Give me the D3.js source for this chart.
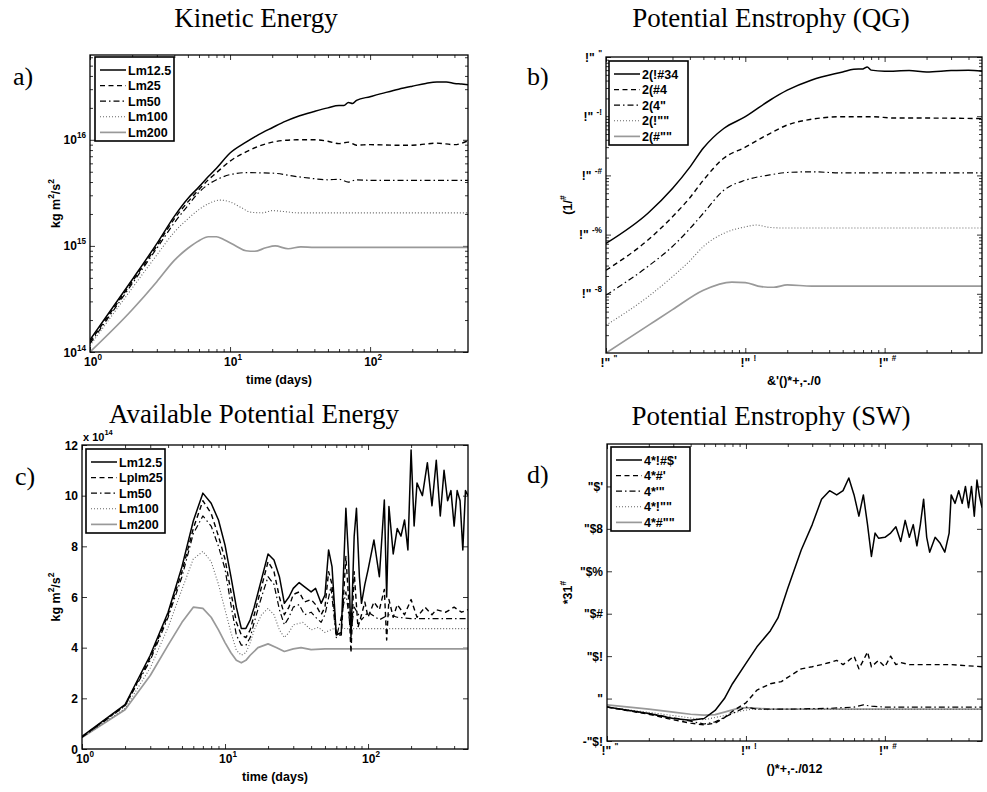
<!DOCTYPE html>
<html>
<head>
<meta charset="utf-8">
<script src="https://cdn.jsdelivr.net/npm/d3@7"></script>
<style>
  body { margin: 0; background: #fff; }
  svg text { font-family: "Liberation Sans", Arial, sans-serif; font-weight: bold; fill: #000; }
  svg text.serif { font-family: "Liberation Serif", "Times New Roman", serif; font-weight: normal; }
</style>
</head>
<body>
<svg id="chart" width="987" height="792"></svg>
<script>
// ---- data: [time in days, value] ----
// a) kinetic energy, kg m^2/s^2
const keLm125 = [[1,1.3e14],[2,4.8e14],[3,1.05e15],[4,1.9e15],[5,2.8e15],[6,3.6e15],[7,4.5e15],[8,5.4e15],[10,7.5e15],[13,9.5e15],[16,1.12e16],[20,1.3e16],[25,1.5e16],[30,1.65e16],[40,1.85e16],[50,2.0e16],[60,2.1e16],[65,2.1e16],[70,2.25e16],[75,2.2e16],[80,2.35e16],[100,2.55e16],[130,2.8e16],[160,3.0e16],[200,3.2e16],[250,3.4e16],[300,3.5e16],[350,3.5e16],[400,3.4e16],[450,3.35e16],[500,3.3e16]];
const keLm25 = [[1,1.25e14],[2,4.6e14],[3,1.0e15],[4,1.8e15],[5,2.6e15],[6,3.4e15],[7,4.2e15],[8,4.9e15],[10,6.3e15],[13,7.7e15],[16,8.7e15],[20,9.5e15],[25,9.9e15],[30,1.0e16],[40,1.0e16],[50,9.7e15],[60,9.2e15],[70,9.5e15],[80,8.9e15],[100,9.0e15],[150,8.9e15],[200,8.9e15],[300,9.3e15],[400,9.0e15],[500,9.8e15]];
const keLm50 = [[1,1.2e14],[2,4.4e14],[3,9.5e14],[4,1.65e15],[5,2.4e15],[6,3.2e15],[7,3.8e15],[8,4.2e15],[10,4.7e15],[13,4.9e15],[20,4.85e15],[30,4.5e15],[40,4.3e15],[50,4.2e15],[60,4.25e15],[70,4.0e15],[80,4.2e15],[100,4.15e15],[500,4.15e15]];
const keLm100 = [[1,1.15e14],[2,4.0e14],[3,8.2e14],[4,1.35e15],[5,1.8e15],[6,2.2e15],[7,2.5e15],[8.5,2.7e15],[10,2.6e15],[12,2.3e15],[14,2.08e15],[17,2.05e15],[20,2.15e15],[25,2.1e15],[30,2.05e15],[500,2.05e15]];
const keLm200 = [[1,1.0e14],[2,2.5e14],[3,4.6e14],[4,7.3e14],[5,9.5e14],[6,1.12e15],[7,1.22e15],[8,1.22e15],[9,1.15e15],[11,1.0e15],[13,9.0e14],[15,8.9e14],[18,9.6e14],[21,1.0e15],[26,9.4e14],[32,9.8e14],[40,9.7e14],[500,9.7e14]];

// b) potential enstrophy (QG)
const qgLm125 = [[1,7.1e-4],[2,2.3e-3],[3,6.0e-3],[4,0.0138],[5,0.029],[7,0.062],[10,0.098],[15,0.186],[20,0.275],[30,0.41],[50,0.56],[60,0.62],[70,0.63],[75,0.68],[80,0.6],[100,0.575],[150,0.59],[200,0.56],[300,0.59],[400,0.6],[500,0.575]];
const qgLm25 = [[1,2.5e-4],[2,8.1e-4],[3,2.0e-3],[4,4.2e-3],[5,8.3e-3],[7,0.0195],[10,0.030],[15,0.051],[20,0.071],[30,0.089],[50,0.098],[80,0.098],[120,0.093],[200,0.093],[500,0.091]];
const qgLm50 = [[1,9.5e-5],[2,2.9e-4],[3,6.3e-4],[4,1.26e-3],[5,2.3e-3],[7,5.6e-3],[10,8.3e-3],[15,0.0102],[20,0.0112],[30,0.0115],[50,0.011],[500,0.011]];
const qgLm100 = [[1,2.95e-5],[2,8.9e-5],[3,1.95e-4],[4,3.6e-4],[5,6.3e-4],[7,1.05e-3],[10,1.35e-3],[12,1.45e-3],[15,1.32e-3],[20,1.29e-3],[500,1.29e-3]];
const qgLm200 = [[1,1.0e-5],[2,2.9e-5],[3,5.4e-5],[5,1.15e-4],[8,1.58e-4],[10,1.55e-4],[13,1.32e-4],[16,1.29e-4],[20,1.41e-4],[30,1.35e-4],[500,1.35e-4]];

// c) available potential energy, x 10^14 kg m^2/s^2
const apeLm125 = [[1,0.5],[2,1.75],[3,3.7],[4,5.4],[5,7.2],[6,9.0],[7,10.1],[8,9.7],[9,9.04],[10,8.05],[11,6.8],[12,5.6],[13,4.76],[14,4.76],[15,5.1],[16,5.6],[18,6.7],[20,7.7],[22,7.46],[24,6.8],[26,5.75],[28,6.0],[30,6.34],[33,6.57],[36,6.4],[40,6.2],[43,6.34],[47,5.75],[50,6.08],[53,7.86],[56,7.2],[60,4.5],[65,4.6],[70,9.5],[73,7.6],[76,4.4],[80,8.4],[83,9.5],[87,6.8],[90,5.75],[95,6.5],[100,7.07],[110,8.25],[120,6.8],[130,9.83],[135,6.0],[140,9.57],[150,7.7],[160,8.7],[170,8.4],[180,9.04],[190,7.86],[200,11.8],[210,8.8],[220,10.5],[240,10.0],[260,11.3],[280,9.6],[300,11.4],[320,9.2],[340,11.0],[360,9.8],[380,10.2],[400,8.8],[420,10.2],[440,9.8],[460,7.86],[480,10.2],[500,10.0]];
const apeLm25 = [[1,0.48],[2,1.72],[3,3.6],[4,5.3],[5,7.0],[6,8.7],[7,9.8],[8,9.3],[9,8.4],[10,7.5],[11,6.2],[12,5.0],[13,4.5],[14,4.4],[15,4.7],[16,5.3],[18,6.4],[20,7.4],[22,7.0],[24,6.0],[26,5.3],[28,5.6],[30,6.1],[33,6.2],[36,5.8],[40,5.9],[43,5.7],[47,5.3],[50,5.6],[53,7.0],[56,6.5],[60,4.5],[65,4.5],[70,7.6],[73,6.0],[76,3.8],[80,7.0],[85,4.8],[90,5.3],[95,5.8],[100,5.2],[110,5.8],[120,5.5],[130,6.3],[135,4.3],[140,5.9],[150,5.2],[160,5.7],[180,5.3],[200,5.9],[220,5.2],[250,5.6],[280,5.3],[300,5.5],[350,5.4],[400,5.6],[450,5.4],[500,5.5]];
const apeLm50 = [[1,0.46],[2,1.7],[3,3.5],[4,5.2],[5,6.8],[6,8.5],[7,9.2],[8,8.8],[9,8.0],[10,7.1],[11,5.7],[12,4.5],[13,4.1],[14,4.1],[15,4.4],[16,5.0],[18,6.0],[20,6.8],[22,6.5],[24,5.5],[26,4.9],[28,5.2],[30,5.6],[33,5.7],[36,5.3],[40,5.4],[43,5.2],[47,5.0],[50,5.3],[55,6.4],[60,4.4],[65,5.2],[70,6.2],[76,4.6],[80,5.6],[90,5.1],[100,5.4],[120,5.1],[140,5.3],[160,5.2],[200,5.15],[300,5.15],[500,5.15]];
const apeLm100 = [[1,0.45],[2,1.6],[3,3.2],[4,4.8],[5,6.3],[6,7.5],[7,7.8],[8,7.4],[9,6.5],[10,5.5],[11,4.6],[12,3.9],[13,3.7],[14,3.8],[15,4.2],[16,4.7],[18,5.3],[20,5.55],[22,5.3],[24,4.7],[26,4.4],[28,4.6],[30,4.9],[35,5.0],[40,4.7],[45,4.8],[50,4.6],[60,4.8],[70,4.75],[100,4.75],[500,4.75]];
const apeLm200 = [[1,0.45],[2,1.55],[3,2.9],[4,4.1],[5,5.0],[6,5.6],[7,5.55],[8,5.2],[9,4.7],[10,4.2],[11,3.8],[12,3.5],[13,3.4],[14,3.5],[15,3.7],[17,4.0],[20,4.15],[23,4.0],[26,3.85],[30,3.95],[34,4.0],[40,3.92],[50,3.95],[100,3.95],[500,3.95]];

// d) potential enstrophy (SW)
const swLm125 = [[1,-0.02],[2,-0.035],[3,-0.047],[4,-0.051],[5,-0.047],[6,-0.028],[7,0],[8,0.035],[10,0.083],[12,0.122],[15,0.16],[17,0.19],[20,0.26],[25,0.35],[30,0.41],[35,0.47],[40,0.49],[45,0.48],[50,0.49],[55,0.52],[60,0.48],[65,0.43],[70,0.48],[75,0.41],[80,0.335],[85,0.39],[90,0.378],[100,0.38],[110,0.39],[120,0.405],[130,0.37],[140,0.42],[150,0.38],[160,0.41],[170,0.36],[180,0.41],[190,0.47],[200,0.38],[210,0.345],[230,0.38],[250,0.366],[270,0.345],[290,0.39],[300,0.48],[320,0.46],[340,0.49],[360,0.46],[380,0.5],[400,0.45],[420,0.5],[440,0.43],[460,0.515],[480,0.476],[500,0.45]];
const swLm25 = [[1,-0.02],[2,-0.037],[3,-0.05],[4,-0.058],[5,-0.062],[6,-0.058],[7,-0.045],[8,-0.03],[10,-0.01],[12,0.02],[15,0.035],[18,0.04],[20,0.05],[25,0.07],[30,0.075],[35,0.08],[40,0.085],[45,0.09],[50,0.08],[55,0.09],[60,0.1],[65,0.07],[70,0.09],[75,0.11],[80,0.075],[90,0.09],[100,0.075],[110,0.1],[120,0.08],[130,0.085],[150,0.08],[200,0.08],[300,0.08],[500,0.075]];
const swLm50 = [[1,-0.02],[3,-0.045],[5,-0.06],[6,-0.055],[8,-0.035],[10,-0.02],[12,-0.025],[15,-0.025],[20,-0.025],[40,-0.023],[60,-0.02],[70,-0.015],[80,-0.018],[100,-0.02],[500,-0.02]];
const swLm100 = [[1,-0.02],[3,-0.04],[5,-0.05],[7,-0.04],[9,-0.03],[11,-0.025],[14,-0.026],[20,-0.025],[500,-0.025]];
const swLm200 = [[1,-0.015],[2,-0.025],[3,-0.032],[4,-0.037],[5,-0.039],[6,-0.038],[7,-0.032],[9,-0.022],[11,-0.022],[15,-0.025],[20,-0.025],[500,-0.025]];

// ---- labels ----
const legendA = ["Lm12.5", "Lm25", "Lm50", "Lm100", "Lm200"];
const legendB = ["2(!#34", "2(#4", "2(4\"", "2(!\"\"", "2(#\"\""];
const legendC = ["Lm12.5", "Lplm25", "Lm50", "Lm100", "Lm200"];
const legendD = ["4*!#$'", "4*#'", "4*'\"", "4*!\"\"", "4*#\"\""];

const timeTicks = [1, 10, 100];
const timeTickLabels = [["10", "0"], ["10", "1"], ["10", "2"]];
const timeTickLabelsGarbled = [["!\" ", "\""], ["!\" ", "!"], ["!\" ", "#"]];
const keTicks = [1e14, 1e15, 1e16];
const keTickLabels = [["10", "14"], ["10", "15"], ["10", "16"]];
const qgTicks = [1, 1e-1, 1e-2, 1e-3, 1e-4];
const qgTickLabels = [["!\" ", "\""], ["!\" ", "-!"], ["!\" ", "-#"], ["!\" ", "-%"], ["!\" ", "-8"]];
const apeTicks = [0, 2, 4, 6, 8, 10, 12];
const swTicks = [-0.1, 0, 0.1, 0.2, 0.3, 0.4, 0.5];
const swTickLabels = [["-\"$!"], ["\""], ["\"$!"], ["\"$#"], ["\"$%"], ["\"$8"], ["\"$'"]];

const styles = [
  { color: "#000", dash: null, width: 1.5 },
  { color: "#000", dash: "5,3.5", width: 1.4 },
  { color: "#000", dash: "6,3,1.5,3", width: 1.2 },
  { color: "#666", dash: "1,2", width: 1.1 },
  { color: "#999", dash: null, width: 1.7 }
];

const svg = d3.select("#chart");
svg.append("rect").attr("width", 987).attr("height", 792).attr("fill", "#fff");

function rich(text, parts) {
  // parts: [string, isSuperscript]
  let up = false;
  parts.forEach(([s, sup]) => {
    const t = text.append("tspan").text(s);
    if (sup && !up) { t.attr("font-size", "0.68em").attr("dy", -6); up = true; }
    else if (!sup && up) { t.attr("dy", 6); up = false; }
  });
}

function minorLog(domain) {
  const out = [];
  for (let e = Math.floor(Math.log10(domain[0])); e <= Math.ceil(Math.log10(domain[1])); e++) {
    for (let m = 2; m <= 9; m++) {
      const v = m * Math.pow(10, e);
      if (v > domain[0] && v < domain[1]) out.push(v);
    }
  }
  return out;
}

function panel(cfg, idx) {
  const [l, t, r, b] = cfg.box;
  const x = d3.scaleLog().domain([1, 500]).range([l, r]);
  const y = (cfg.yLog ? d3.scaleLog() : d3.scaleLinear()).domain(cfg.yDomain).range([b, t]);
  const g = svg.append("g");

  // title and panel tag
  g.append("text").attr("class", "serif").attr("x", cfg.titleX).attr("y", cfg.titleY)
    .attr("text-anchor", "middle").attr("font-size", 27).text(cfg.title);
  g.append("text").attr("class", "serif").attr("x", cfg.tagX).attr("y", cfg.tagY)
    .attr("font-size", 26).text(cfg.tag);

  // ticks, all pointing inward
  const noDomain = s => s.select(".domain").remove();
  const xMinor = minorLog([1, 500]);
  [[d3.axisBottom, b], [d3.axisTop, t]].forEach(([ax, pos]) => {
    g.append("g").attr("transform", `translate(0,${pos})`)
      .call(ax(x).tickValues(timeTicks).tickSize(-5).tickFormat("")).call(noDomain);
    g.append("g").attr("transform", `translate(0,${pos})`)
      .call(ax(x).tickValues(xMinor).tickSize(-3).tickFormat("")).call(noDomain);
  });
  [[d3.axisLeft, l], [d3.axisRight, r]].forEach(([ax, pos]) => {
    g.append("g").attr("transform", `translate(${pos},0)`)
      .call(ax(y).tickValues(cfg.yTicks).tickSize(-5).tickFormat("")).call(noDomain);
    if (cfg.yLog) {
      g.append("g").attr("transform", `translate(${pos},0)`)
        .call(ax(y).tickValues(minorLog(cfg.yDomain)).tickSize(-3).tickFormat("")).call(noDomain);
    }
  });
  g.selectAll(".tick line").attr("stroke", "#000").attr("stroke-width", 0.8);

  // tick labels
  timeTicks.forEach((v, i) => {
    const lab = cfg.xTickLabels[i];
    const tx = g.append("text").attr("x", x(v) + 3).attr("y", b + 14)
      .attr("text-anchor", "middle").attr("font-size", 12)
      .attr("xml:space", "preserve");
    rich(tx, [[lab[0], false], [lab[1], true]]);
  });
  cfg.yTicks.forEach((v, i) => {
    const lab = cfg.yTickLabels[i];
    const ty = g.append("text").attr("x", l - 4).attr("y", y(v) + 4.5)
      .attr("text-anchor", "end").attr("font-size", 12)
      .attr("xml:space", "preserve");
    if (lab.length > 1) rich(ty, [[lab[0], false], [lab[1], true]]);
    else ty.text(lab[0]);
  });

  // axis titles
  const xt = g.append("text").attr("x", (l + r) / 2).attr("y", b + 32)
    .attr("text-anchor", "middle").attr("font-size", 12.5);
  rich(xt, cfg.xTitle);
  const yt = g.append("text").attr("transform", `translate(${cfg.yTitleX},${(t + b) / 2}) rotate(-90)`)
    .attr("text-anchor", "middle").attr("font-size", 12.5);
  rich(yt, cfg.yTitle);
  if (cfg.multiplier) {
    const mt = g.append("text").attr("x", l + 1).attr("y", t - 4).attr("font-size", 11);
    rich(mt, cfg.multiplier);
  }

  // lines
  const clipId = "clip" + idx;
  g.append("clipPath").attr("id", clipId).append("rect")
    .attr("x", l).attr("y", t).attr("width", r - l).attr("height", b - t);
  const line = d3.line().x(d => x(d[0])).y(d => y(d[1])).curve(cfg.curve);
  const lines = g.append("g").attr("clip-path", `url(#${clipId})`);
  cfg.series.slice().reverse().forEach((s, k) => {
    const st = styles[cfg.series.length - 1 - k];
    lines.append("path").datum(s).attr("d", line).attr("fill", "none")
      .attr("stroke", st.color).attr("stroke-width", st.width)
      .attr("stroke-dasharray", st.dash).attr("stroke-linejoin", "round");
  });

  // frame
  g.append("rect").attr("x", l).attr("y", t).attr("width", r - l).attr("height", b - t)
    .attr("fill", "none").attr("stroke", "#000").attr("stroke-width", 1.3);

  // legend
  const [lx, ly] = cfg.legend;
  const lg = g.append("g").attr("transform", `translate(${lx},${ly})`);
  lg.append("rect").attr("width", 79).attr("height", 84).attr("fill", "#fff")
    .attr("stroke", "#000").attr("stroke-width", 1.6);
  cfg.legendLabels.forEach((name, i) => {
    const st = styles[i];
    const cy = 13 + i * 15.6;
    lg.append("line").attr("x1", 5).attr("x2", 31).attr("y1", cy).attr("y2", cy)
      .attr("stroke", st.color).attr("stroke-width", st.width).attr("stroke-dasharray", st.dash);
    lg.append("text").attr("x", 33).attr("y", cy + 4.5).attr("font-size", 12.5).text(name);
  });
}

const timeTitle = [["time (days)", false]];
const energyTitle = [["kg m", false], ["2", true], ["/s", false], ["2", true]];

panel({
  box: [90, 55, 468, 352], title: "Kinetic Energy", titleX: 256, titleY: 27, tag: "a)", tagX: 13, tagY: 85,
  yLog: true, yDomain: [1e14, 6.3e16], yTicks: keTicks, yTickLabels: keTickLabels,
  xTickLabels: timeTickLabels, xTitle: timeTitle, yTitle: energyTitle, yTitleX: 60,
  series: [keLm125, keLm25, keLm50, keLm100, keLm200], curve: d3.curveMonotoneX,
  legend: [95, 57], legendLabels: legendA
}, 0);

panel({
  box: [606, 57, 982, 353], title: "Potential Enstrophy (QG)", titleX: 771, titleY: 27, tag: "b)", tagX: 527, tagY: 85,
  yLog: true, yDomain: [1e-5, 1], yTicks: qgTicks, yTickLabels: qgTickLabels,
  xTickLabels: timeTickLabelsGarbled, xTitle: [["&'()*+,-./0", false]], yTitle: [["(1/", false], ["#", true]], yTitleX: 572,
  series: [qgLm125, qgLm25, qgLm50, qgLm100, qgLm200], curve: d3.curveMonotoneX,
  legend: [609, 61], legendLabels: legendB
}, 1);

panel({
  box: [82, 445, 468, 749], title: "Available Potential Energy", titleX: 254, titleY: 423, tag: "c)", tagX: 15, tagY: 485,
  yLog: false, yDomain: [0, 12], yTicks: apeTicks, yTickLabels: apeTicks.map(v => [String(v)]),
  xTickLabels: timeTickLabels, xTitle: timeTitle, yTitle: energyTitle, yTitleX: 60,
  multiplier: [["x 10", false], ["14", true]],
  series: [apeLm125, apeLm25, apeLm50, apeLm100, apeLm200], curve: d3.curveLinear,
  legend: [86, 449], legendLabels: legendC
}, 2);

panel({
  box: [607, 444, 982, 741], title: "Potential Enstrophy (SW)", titleX: 771, titleY: 425, tag: "d)", tagX: 527, tagY: 483,
  yLog: false, yDomain: [-0.1, 0.6], yTicks: swTicks, yTickLabels: swTickLabels,
  xTickLabels: timeTickLabelsGarbled, xTitle: [["()*+,-./012", false]], yTitle: [["*31", false], ["#", true]], yTitleX: 572,
  series: [swLm125, swLm25, swLm50, swLm100, swLm200], curve: d3.curveLinear,
  legend: [611, 447], legendLabels: legendD
}, 3);
</script>
</body>
</html>
